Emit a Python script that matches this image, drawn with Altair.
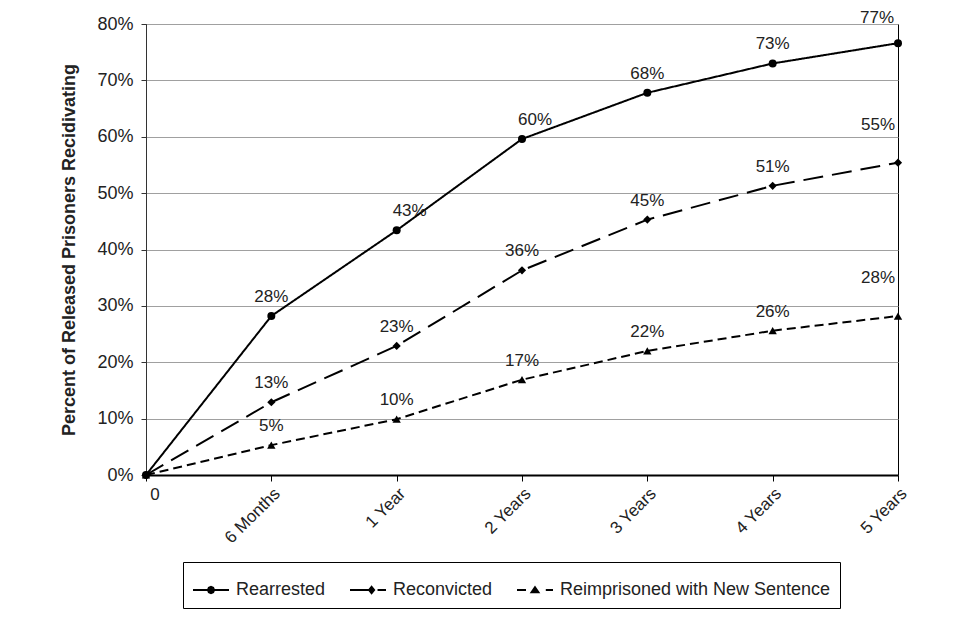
import altair as alt
import pandas as pd

periods = ["0", "6 Months", "1 Year", "2 Years", "3 Years", "4 Years", "5 Years"]
series = ["Rearrested", "Reconvicted", "Reimprisoned with New Sentence"]
rearrested = [0, 28.2, 43.4, 59.6, 67.8, 73.0, 76.6]
reconvicted = [0, 12.9, 22.9, 36.3, 45.3, 51.3, 55.4]
reimprisoned = [0, 5.3, 9.9, 16.9, 22.0, 25.6, 28.2]

rows = []
for name, vals in zip(series, [rearrested, reconvicted, reimprisoned]):
    for p, v in zip(periods, vals):
        rows.append({"period": p, "series": name, "value": v})
df = pd.DataFrame(rows)

FONT = "Liberation Sans"
TXT = "#222222"

x_enc = alt.X(
    "period:N",
    sort=periods,
    scale=alt.Scale(domain=periods, padding=0),
    axis=alt.Axis(
        title=None, labelAngle=-45, labelAlign="right", labelBaseline="top",
        labelExpr="datum.value == '0' ? '' : datum.value",
        labelFontSize=17, labelFont=FONT, labelColor=TXT, labelPadding=4,
        tickSize=6, tickColor="black", domainWidth=2, domainColor="black", grid=False,
    ),
)
y_enc = alt.Y(
    "value:Q",
    scale=alt.Scale(domain=[0, 80], nice=False),
    axis=alt.Axis(
        title="Percent of Released Prisoners Recidivating",
        values=list(range(0, 81, 10)),
        labelExpr="datum.value + '%'",
        labelFontSize=18, labelFont=FONT, labelColor=TXT, labelPadding=8,
        tickSize=5, tickColor="#333333", domainColor="#333333", domainWidth=1,
        grid=True, gridColor="#a0a0a0", gridWidth=1,
        titleFont=FONT, titleFontSize=18, titleFontWeight="bold", titleColor=TXT,
        titlePadding=18,
    ),
)

base = alt.Chart(df)

lines = base.mark_line(color="black", strokeWidth=2).encode(
    x=x_enc, y=y_enc,
    detail="series:N",
    strokeDash=alt.StrokeDash(
        "series:N",
        scale=alt.Scale(domain=series, range=[[1, 0], [20, 9], [9, 5]]),
        legend=None,
    ),
)

points = base.mark_point(filled=True, color="black", opacity=1).encode(
    x=x_enc, y=y_enc,
    shape=alt.Shape(
        "series:N",
        scale=alt.Scale(domain=series, range=["circle", "diamond", "triangle-up"]),
        legend=None,
    ),
    size=alt.Size("series:N", scale=alt.Scale(domain=series, range=[64, 70, 70]), legend=None),
)

legend_paths = [
    "M-1,0L1,0"
    "M0.17,0L0.12,0.12L0,0.17L-0.12,0.12L-0.17,0L-0.12,-0.12L0,-0.17L0.12,-0.12Z"
    "M0.07,0L0,0.07L-0.07,0L0,-0.07Z",
    "M-1,0L0.1,0"
    "M0.2,-0.17L0.34,0L0.2,0.17L0.06,0Z"
    "M0.2,-0.06L0.25,0L0.2,0.06L0.15,0Z"
    "M0.53,0L1,0",
    "M-1,0L-0.5,0"
    "M0,-0.15L0.19,0.13L-0.19,0.13Z"
    "M0,-0.04L0.07,0.07L-0.07,0.07Z"
    "M0.6,0L1,0",
]

legend_layer = base.transform_filter("false").mark_point(
    filled=False, color="black", strokeWidth=2, opacity=1
).encode(
    x=x_enc, y=y_enc,
    shape=alt.Shape(
        "series:N",
        scale=alt.Scale(domain=series, range=legend_paths),
        legend=alt.Legend(
            title=None, orient="none", legendX=37, legendY=538,
            direction="horizontal", columns=3,
            symbolSize=1296, symbolStrokeWidth=2, symbolStrokeColor="black",
            symbolOpacity=1,
            labelFontSize=18, labelFont=FONT, labelColor=TXT, labelOffset=6,
            labelLimit=400,
            strokeColor="black", fillColor="white", padding=9, columnPadding=20,
        ),
    ),
)

lab = base.transform_calculate(label="format(datum.value, '.0f') + '%'")
text_kw = dict(baseline="middle", align="center", fontSize=17, font=FONT, color=TXT)

labels_main = lab.transform_filter(
    "datum.period != '0' && datum.period != '5 Years' && !(datum.series == 'Rearrested' && (datum.period == '1 Year' || datum.period == '2 Years'))"
).mark_text(dy=-19, **text_kw).encode(x=x_enc, y=y_enc, text="label:N")

labels_shift = lab.transform_filter(
    "datum.series == 'Rearrested' && (datum.period == '1 Year' || datum.period == '2 Years')"
).mark_text(dy=-19, dx=13, **text_kw).encode(x=x_enc, y=y_enc, text="label:N")

labels_last_top = lab.transform_filter(
    "datum.period == '5 Years' && datum.series == 'Rearrested'"
).mark_text(dy=-25, dx=-21, **text_kw).encode(x=x_enc, y=y_enc, text="label:N")

labels_last = lab.transform_filter(
    "datum.period == '5 Years' && datum.series != 'Rearrested'"
).mark_text(dy=-38, dx=-20, **text_kw).encode(x=x_enc, y=y_enc, text="label:N")

zero_label = base.transform_filter(
    "datum.period == '0' && datum.series == 'Rearrested'"
).mark_text(baseline="top", align="center", dx=9, dy=12, fontSize=17, font=FONT, color=TXT).encode(
    x=x_enc, y=y_enc, text=alt.value("0")
)

chart = alt.layer(
    lines, points, legend_layer, labels_main, labels_shift, labels_last_top, labels_last, zero_label
).resolve_scale(
    shape="independent", size="independent"
).properties(
    width=752, height=451,
    autosize=alt.AutoSizeParams(type="none"),
    padding={"left": 138, "top": 16, "right": 45, "bottom": 140},
    background="white",
).configure_view(
    stroke="black", strokeWidth=1
)

chart.save("out.html", embed_options={"renderer": "svg", "actions": False})
